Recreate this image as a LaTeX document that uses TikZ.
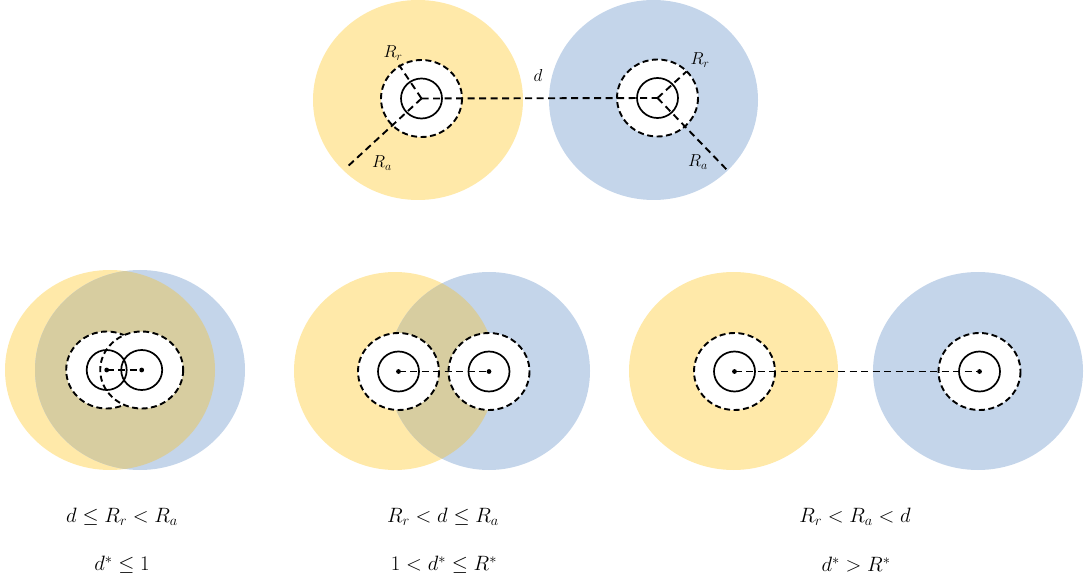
\documentclass[tikz,border=0pt]{standalone}
\usepackage{amsmath}
\begin{document}
\begin{tikzpicture}[x=1pt,y=-1pt,
  yel/.style={fill=yfill},
  blu/.style={fill=bfill},
  repzone/.style={fill=white,draw=black,line width=1.9pt,dash pattern=on 6pt off 3.5pt},
  core/.style={draw=black,line width=1.7pt},
  link/.style={draw=black,line width=1.9pt,dash pattern=on 7pt off 4.5pt},
  ctr/.style={fill=black},
  lbl/.style={inner sep=0pt,font=\fontsize{18}{20}\selectfont},
  cond/.style={inner sep=0pt,font=\fontsize{22.5}{26}\selectfont}]
\definecolor{yfill}{HTML}{FFE9A9}
\definecolor{bfill}{HTML}{C4D5EA}
\definecolor{ofill}{HTML}{D7CDA0}
\useasboundingbox (0,0) rectangle (1089,585);

% ---------- top panel ----------
\fill[yel] (418,100) ellipse [x radius=105, y radius=100];
\fill[blu] (653.5,100) ellipse [x radius=104.5, y radius=100];
\coordinate (TL) at (421.5,98.5);
\coordinate (TR) at (657.5,98);
\path[repzone] (TL) ellipse [x radius=40.5, y radius=38.5];
\path[repzone] (TR) ellipse [x radius=40.5, y radius=38.5];
\path[core] (TL) ellipse [x radius=20.5, y radius=20];
\path[core] (TR) ellipse [x radius=20.5, y radius=20];
\coordinate (TLr) at (399,65);
\coordinate (TLa) at (346,168);
\coordinate (TRr) at (686.5,71.5);
\coordinate (TRa) at (728,171);
\draw[link] (TL) -- (TR);
\draw[link] (TL) -- (TLr);
\draw[link] (TL) -- (TLa);
\draw[link] (TR) -- (TRr);
\draw[link] (TR) -- (TRa);
\node[lbl] (lRr) at (393,53) {$R_r$};
\node[lbl] (lRa) at (382,163) {$R_a$};
\node[lbl] (ld) at (538,76) {$d$};
\node[lbl] (rRr) at (700,60) {$R_r$};
\node[lbl] (rRa) at (698,162) {$R_a$};

% ---------- panel 1 ----------
\fill[yel] (110,370) ellipse [x radius=105, y radius=100];
\fill[blu] (140,370) ellipse [x radius=105, y radius=100];
\begin{scope}
  \clip (140,370) ellipse [x radius=105, y radius=100];
  \fill[ofill] (110,370) ellipse [x radius=105, y radius=100];
\end{scope}
\coordinate (A1) at (106.7,370);
\coordinate (B1) at (141.7,370);
\path[repzone] (A1) ellipse [x radius=40.5, y radius=38.5];
\path[repzone] (B1) ellipse [x radius=41.5, y radius=38.5];
\path[core] (A1) ellipse [x radius=20, y radius=20];
\path[core] (B1) ellipse [x radius=20.5, y radius=20];
\draw[link] (A1) -- (B1);
\fill[ctr] (A1) circle (2.4);
\fill[ctr] (B1) circle (2.4);

% ---------- panel 2 ----------
\fill[yel] (395,371) ellipse [x radius=101, y radius=99];
\fill[blu] (489,371) ellipse [x radius=101, y radius=99];
\begin{scope}
  \clip (489,371) ellipse [x radius=101, y radius=99];
  \fill[ofill] (395,371) ellipse [x radius=101, y radius=99];
\end{scope}
\coordinate (A2) at (398.5,371.5);
\coordinate (B2) at (489,371.5);
\path[repzone] (A2) ellipse [x radius=40.5, y radius=38.5];
\path[repzone] (B2) ellipse [x radius=40.5, y radius=38.5];
\path[core] (A2) ellipse [x radius=20.5, y radius=20];
\path[core] (B2) ellipse [x radius=20.5, y radius=20];
\draw[link] (A2) -- (B2);
\fill[ctr] (A2) circle (2.4);
\fill[ctr] (B2) circle (2.4);

% ---------- panel 3 ----------
\fill[yel] (733.5,371) ellipse [x radius=104.5, y radius=99];
\fill[blu] (978,371) ellipse [x radius=105, y radius=99];
\coordinate (A3) at (734.5,371.5);
\coordinate (B3) at (979.5,371.5);
\path[repzone] (A3) ellipse [x radius=40.5, y radius=38.5];
\path[repzone] (B3) ellipse [x radius=41, y radius=38.5];
\path[core] (A3) ellipse [x radius=20.5, y radius=20];
\path[core] (B3) ellipse [x radius=20.5, y radius=20];
\draw[link] (A3) -- (B3);
\fill[ctr] (A3) circle (2.4);
\fill[ctr] (B3) circle (2.4);

% ---------- conditions ----------
\node[cond] (c1a) at (122,517) {$d \le R_r < R_a$};
\node[cond] (c1b) at (122,565) {$d^{*} \le 1$};
\node[cond] (c2a) at (443,517) {$R_r < d \le R_a$};
\node[cond] (c2b) at (444,565) {$1 < d^{*} \le R^{*}$};
\node[cond] (c3a) at (855,517) {$R_r < R_a < d$};
\node[cond] (c3b) at (856,565) {$d^{*} > R^{*}$};
\end{tikzpicture}
\end{document}
